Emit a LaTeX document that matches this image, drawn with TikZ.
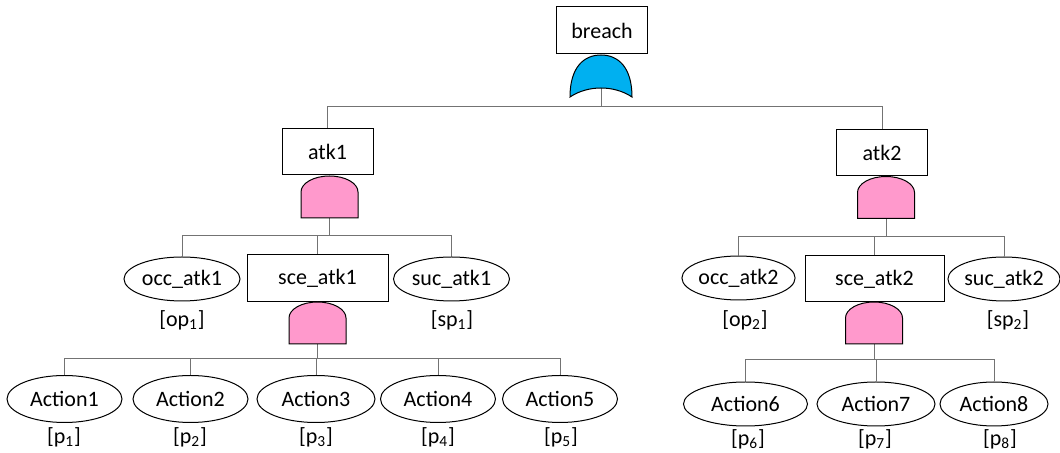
\documentclass[tikz,border=0pt]{standalone}
\usepackage{xcolor}
\usepackage{tikz}
\usetikzlibrary{shapes.geometric}
\usepackage{fontspec}
\setmainfont{Carlito}

\definecolor{andpink}{RGB}{255,153,204}
\definecolor{orblue}{RGB}{0,176,240}

% gate outlines, drawn inside an empty node
\newcommand{\andgate}[1]{\draw[line width=0.5pt,fill=andpink] (#1.south west) -- ([yshift=13pt]#1.south west) arc[start angle=180,end angle=0,x radius=14.25pt,y radius=8pt] -- (#1.south east) -- cycle;}
\newcommand{\orgate}[1]{\draw[line width=0.5pt,fill=orblue] (#1.south west) .. controls ([yshift=15pt]#1.south west) and ([xshift=-8.5pt]#1.north) .. (#1.north) .. controls ([xshift=8.5pt]#1.north) and ([yshift=15pt]#1.south east) .. (#1.south east) .. controls ([xshift=-9pt,yshift=6pt]#1.south east) and ([xshift=9pt,yshift=6pt]#1.south west) .. cycle;}

\begin{document}
\begin{tikzpicture}[x=0.5pt,y=-0.5pt,font=\fontsize{11}{13}\selectfont,
  box/.style={draw,fill=white,line width=0.5pt,inner sep=0pt,minimum width=45.5pt,minimum height=23pt},
  event/.style={draw,fill=white,line width=0.5pt,ellipse,inner sep=0pt,minimum width=58pt,minimum height=22pt},
  action/.style={event,minimum width=57.5pt,minimum height=23.5pt},
  gatebox/.style={inner sep=0pt,outer sep=0pt,minimum width=28.5pt,minimum height=21pt},
  tag/.style={inner sep=1pt},
  wire/.style={line width=0.5pt,black!55}]
\useasboundingbox (0,0) rectangle (1060,453);

% top event
\node[box,minimum height=23.5pt] (breach) at (602,30.5) {breach};
\node[gatebox,minimum width=31pt] (gor) at (601,76) {};

% attacks
\node[box] (atk1) at (327.5,152) {atk1};
\node[gatebox] (g1) at (329.5,197) {};
\node[box] (atk2) at (882,153) {atk2};
\node[gatebox] (g2) at (886,197.5) {};

% attack 1 branch
\node[event] (occ1) at (182,279) {occ\_atk1};
\node[box,minimum width=70.5pt,minimum height=23.5pt] (sce1) at (317.5,278.5) {sce\_atk1};
\node[event] (suc1) at (451.5,279) {suc\_atk1};
\node[tag] (op1) at (182,320) {[op\textsubscript{1}]};
\node[tag] (sp1) at (452,320) {[sp\textsubscript{1}]};
\node[gatebox] (g3) at (317.5,323) {};

\node[action] (a1) at (64.5,399) {Action1};
\node[action] (a2) at (190.5,399) {Action2};
\node[action,minimum width=59pt] (a3) at (316,399) {Action3};
\node[action] (a4) at (438,399) {Action4};
\node[action] (a5) at (560,399) {Action5};
\node[tag] (p1) at (64,437) {[p\textsubscript{1}]};
\node[tag] (p2) at (190,437) {[p\textsubscript{2}]};
\node[tag] (p3) at (316,437) {[p\textsubscript{3}]};
\node[tag] (p4) at (438,437) {[p\textsubscript{4}]};
\node[tag] (p5) at (561,437) {[p\textsubscript{5}]};

% attack 2 branch
\node[event,minimum width=56.5pt] (occ2) at (738.5,278) {occ\_atk2};
\node[box,minimum width=69.5pt,minimum height=23pt] (sce2) at (874.5,279) {sce\_atk2};
\node[event,minimum width=54.5pt] (suc2) at (1004,279) {suc\_atk2};
\node[tag] (op2) at (745,320) {[op\textsubscript{2}]};
\node[tag] (sp2) at (1008,320) {[sp\textsubscript{2}]};
\node[gatebox] (g4) at (874,323) {};

\node[action,minimum width=62pt,minimum height=22pt] (a6) at (745.5,404) {Action6};
\node[action,minimum width=59pt,minimum height=22pt] (a7) at (876,404) {Action7};
\node[action,minimum width=54pt,minimum height=22pt] (a8) at (994,404) {Action8};
\node[tag] (p6) at (748,439) {[p\textsubscript{6}]};
\node[tag] (p7) at (875,439) {[p\textsubscript{7}]};
\node[tag] (p8) at (1000,439) {[p\textsubscript{8}]};

% bus lines
\coordinate (b0) at (gor |- 0,107);
\coordinate (b1) at (g1 |- 0,236);
\coordinate (b2) at (g2 |- 0,237);
\coordinate (b3) at (g3 |- 0,359);
\coordinate (b4) at (g4 |- 0,360);

\draw[wire] (gor.center) -- (b0) -| (atk1.north);
\draw[wire] (b0) -| (atk2.north);

\draw[wire] (g1.center) -- (b1) -| (occ1.north);
\draw[wire] (b1) -| (sce1.north);
\draw[wire] (b1) -| (suc1.north);

\draw[wire] (g2.center) -- (b2) -| (occ2.north);
\draw[wire] (b2) -| (sce2.north);
\draw[wire] (b2) -| (suc2.north);

\draw[wire] (g3.center) -- (b3) -| (a1.north);
\draw[wire] (b3) -| (a2.north);
\draw[wire] (b3) -| (a3.north);
\draw[wire] (b3) -| (a4.north);
\draw[wire] (b3) -| (a5.north);

\draw[wire] (g4.center) -- (b4) -| (a6.north);
\draw[wire] (b4) -| (a7.north);
\draw[wire] (b4) -| (a8.north);

% gates on top of their stems
\orgate{gor}
\andgate{g1}
\andgate{g2}
\andgate{g3}
\andgate{g4}
\end{tikzpicture}
\end{document}
